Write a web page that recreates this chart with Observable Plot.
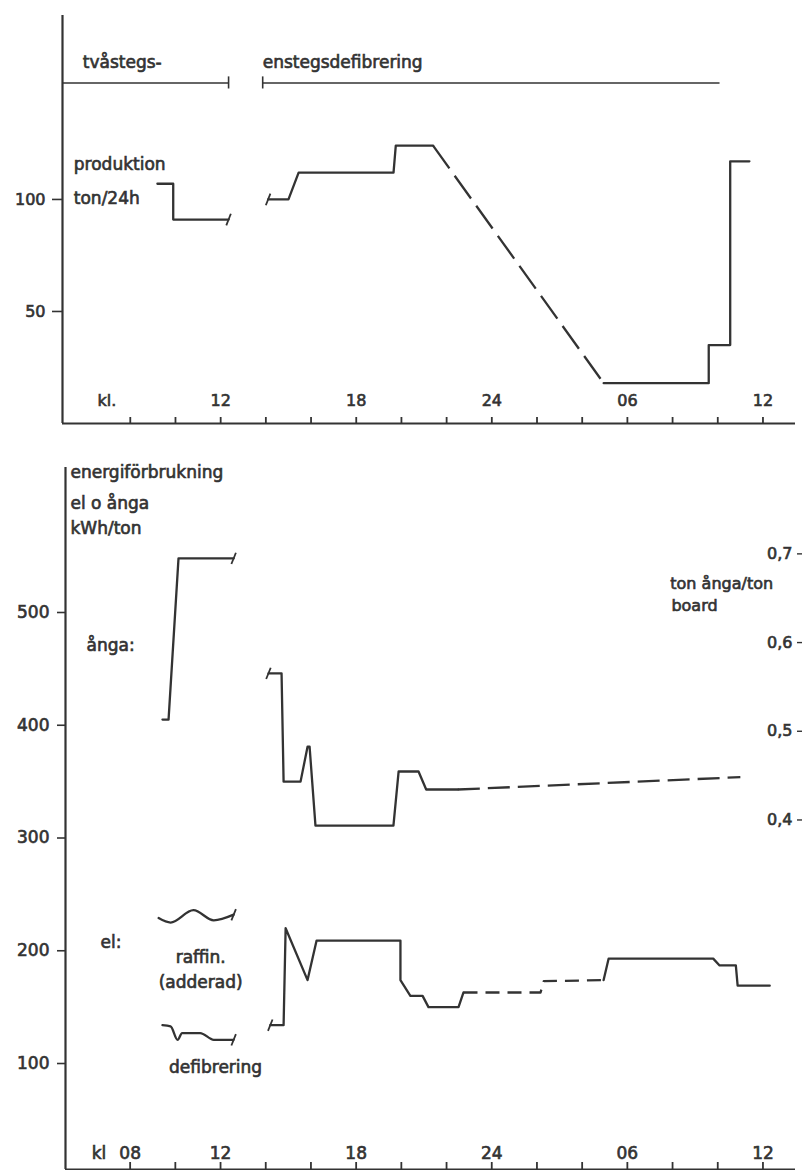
<!DOCTYPE html>
<html><head><meta charset="utf-8">
<script src="https://cdn.jsdelivr.net/npm/d3@7"></script>
<script src="https://cdn.jsdelivr.net/npm/@observablehq/plot@0.6"></script>
<style>
html,body{margin:0;padding:0;background:#fff;}
#chart{width:804px;height:1170px;overflow:hidden;background:#fff;}
#chart svg{display:block;}
#chart svg text{stroke:#333;stroke-width:0.65px;}
</style></head><body><div id="chart"></div>
<script>
// ---------------- data ----------------
// hours on a running clock: 24 = midnight, 30 = 06 next day, 36 = 12 next day
const hourTicks = [8, 10, 12, 14, 16, 18, 20, 22, 24, 26, 28, 30, 32, 34, 36];
const topLabelHours = [12, 18, 24, 30, 36];
const topLabelTexts = ["12", "18", "24", "06", "12"];
const bottomLabelHours = [8, 12, 18, 24, 30, 36];
const bottomLabelTexts = ["08", "12", "18", "24", "06", "12"];

// production, ton/24h
const prodTwoStageH = [9.2, 9.9, 9.9, 12.35];
const prodTwoStageV = [107, 107, 91, 91];
const prodOneStageH = [14.1, 15.0, 15.45, 19.65, 19.75, 21.4];
const prodOneStageV = [100, 100, 112, 112, 124, 124];
const prodDashedH = [21.4, 28.95];
const prodDashedV = [124, 18];
const prodLateH = [28.95, 33.6, 33.6, 34.55, 34.55, 35.4];
const prodLateV = [18, 18, 35, 35, 117, 117];
const prodYTicks = [50, 100];

// phases
const phaseNames = ["tvåstegs-", "enstegsdefibrering"];
const phaseStart = [5.0, 13.86];
const phaseEnd = [12.35, 34.1];

// steam (ånga), kWh/ton
const steamTwoStageH = [9.43, 9.7, 10.14, 12.58];
const steamTwoStageV = [405, 405, 548, 548];
const steamOneStageH = [14.12, 14.7, 14.79, 15.54, 15.85, 15.94, 16.2, 19.65, 19.88, 20.76, 21.1, 22.5];
const steamOneStageV = [446, 446, 350, 350, 381, 381, 311, 311, 359, 359, 343, 343];
const steamDashedH = [22.5, 35.0];
const steamDashedV = [343, 354];

// electricity (el), kWh/ton
const raffinH = [9.26, 9.79, 10.8, 11.7, 12.58];
const raffinV = [229, 225, 236, 227, 232];
const defibH = [9.43, 9.79, 10.1, 10.3, 11.1, 11.7, 12.58];
const defibV = [134, 133, 121, 127, 127, 121, 121];
const elOneStageH = [14.2, 14.79, 14.88, 15.85, 16.25, 19.96, 19.96, 20.4, 20.94, 21.2, 22.53, 22.75];
const elOneStageV = [134, 134, 220, 174, 209, 209, 174, 160, 160, 150, 150, 163];
const elDashedH = [22.75, 26.16, 26.3, 28.95];
const elDashedV = [163, 163, 173, 174];
const elLateH = [28.95, 29.17, 33.8, 34.08, 34.8, 34.88, 36.3];
const elLateV = [174, 193, 193, 187, 187, 169, 169];

const energyYTicks = [100, 200, 300, 400, 500];
const steamTickValues = [0.4, 0.5, 0.6, 0.7];
const steamTickTexts = ["0,4", "0,5", "0,6", "0,7"];
// calibration of right axis (ton ånga/ton board) against left axis (kWh/ton)
const steamCalibTon = [0.4, 0.7];
const steamCalibKwh = [316, 552];

// break marks at interrupted line ends
const topBreaksH = [12.35, 14.1];
const topBreaksV = [91, 100];
const bottomBreaksH = [12.58, 12.58, 12.58, 14.12, 14.2];
const bottomBreaksV = [548, 232, 121, 446, 134];

// ---------------- helpers ----------------
const pts = (H, V) => H.map((h, i) => ({h, v: V[i]}));
const INK = "#333";
const lineOpts = {x: "h", y: "v", stroke: INK, strokeWidth: 2.3, strokeLinejoin: "round", strokeLinecap: "round"};
const txt = (s, x, y, o = {}) => Plot.text([s], {x: () => x, y: () => y, text: d => d, textAnchor: "start", lineAnchor: "middle", fill: INK, fontSize: 17, ...o});

const chart = document.getElementById("chart");

// ---------------- top panel ----------------
const phases = phaseNames.map((n, i) => ({name: n, start: phaseStart[i], end: phaseEnd[i]}));
const topLabelMap = new Map(topLabelHours.map((h, i) => [h, topLabelTexts[i]]));

const topPlot = Plot.plot({
  width: 804, height: 440,
  marginLeft: 62, marginRight: 9, marginTop: 15, marginBottom: 17,
  style: {fontFamily: "DejaVu Sans", fontSize: "16px", color: INK, background: "white"},
  x: {type: "linear", domain: [5.0, 37.44], label: null},
  y: {type: "linear", domain: [0, 182.1], label: null},
  marks: [
    Plot.ruleX([5.0], {stroke: INK, strokeWidth: 2.2}),
    Plot.ruleY([0], {stroke: INK, strokeWidth: 2.2}),
    Plot.axisY(prodYTicks, {anchor: "left", tickSize: 10, tickPadding: 7, fontSize: 16, label: null, strokeWidth: 1.6}),
    Plot.axisX(hourTicks, {anchor: "bottom", tickSize: -6, tickPadding: -17, lineAnchor: "middle", fontSize: 16, label: null, strokeWidth: 1.8,
      tickFormat: d => topLabelMap.get(d) ?? ""}),
    // phase brackets
    Plot.ruleY(phases, {x1: "start", x2: "end", y: 152, stroke: INK, strokeWidth: 1.4}),
    Plot.ruleX(phases, {x: d => d.name === phaseNames[0] ? d.end : d.start, y1: 149.3, y2: 154.7, stroke: INK, strokeWidth: 1.6}),
    Plot.text(phases, {x: d => d.name === phaseNames[0] ? d.start + 0.9 : d.start, y: 161, text: "name", textAnchor: "start", lineAnchor: "middle", fill: INK, fontSize: 17}),
    // production
    Plot.line(pts(prodTwoStageH, prodTwoStageV), lineOpts),
    Plot.line(pts(prodOneStageH, prodOneStageV), lineOpts),
    Plot.line(pts(prodDashedH, prodDashedV), {...lineOpts, strokeDasharray: "28 9", strokeLinecap: "butt"}),
    Plot.line(pts(prodLateH, prodLateV), lineOpts),
    Plot.link(pts(topBreaksH, topBreaksV), {x1: d => d.h - 0.1, x2: d => d.h + 0.1, y1: d => d.v - 2.6, y2: d => d.v + 2.6, stroke: INK, strokeWidth: 1.8}),
    txt("produktion", 5.5, 115.8),
    txt("ton/24h", 5.5, 100.2),
    txt("kl.", 6.55, 10, {fontSize: 16})
  ]
});
chart.appendChild(topPlot);

// ---------------- bottom panel ----------------
const bottomLabelMap = new Map(bottomLabelHours.map((h, i) => [h, bottomLabelTexts[i]]));
const tonToKwh = d3.scaleLinear().domain(steamCalibTon).range(steamCalibKwh);
const steamTickMap = new Map(steamTickValues.map((t, i) => [tonToKwh(t), steamTickTexts[i]]));

const bottomPlot = Plot.plot({
  width: 804, height: 730,
  marginLeft: 65, marginRight: 9, marginTop: 27, marginBottom: 1,
  style: {fontFamily: "DejaVu Sans", fontSize: "17px", color: INK, background: "white", overflow: "visible"},
  x: {type: "linear", domain: [5.14, 37.44], label: null},
  y: {type: "linear", domain: [6, 628.6], label: null},
  marks: [
    Plot.ruleX([5.14], {stroke: INK, strokeWidth: 2.2}),
    Plot.ruleY([6], {stroke: INK, strokeWidth: 2.2}),
    Plot.axisY(energyYTicks, {anchor: "left", tickSize: 8, tickPadding: 8, fontSize: 17, label: null, strokeWidth: 1.6}),
    Plot.axisY([...steamTickMap.keys()], {anchor: "left", dx: 737, tickSize: 5, tickPadding: 5, fontSize: 16, label: null, strokeWidth: 1.4,
      tickFormat: d => steamTickMap.get(d)}),
    Plot.axisX(hourTicks, {anchor: "bottom", tickSize: -7, tickPadding: -9, lineAnchor: "middle", fontSize: 17, label: null, strokeWidth: 1.8,
      tickFormat: d => bottomLabelMap.get(d) ?? ""}),
    // steam
    Plot.line(pts(steamTwoStageH, steamTwoStageV), lineOpts),
    Plot.line(pts(steamOneStageH, steamOneStageV), lineOpts),
    Plot.line(pts(steamDashedH, steamDashedV), {...lineOpts, strokeDasharray: "22 8", strokeLinecap: "butt"}),
    // electricity
    Plot.line(pts(raffinH, raffinV), {...lineOpts, curve: "monotone-x"}),
    Plot.line(pts(defibH, defibV), {...lineOpts, curve: "monotone-x"}),
    Plot.line(pts(elOneStageH, elOneStageV), lineOpts),
    Plot.line(pts(elDashedH, elDashedV), {...lineOpts, strokeDasharray: "14 8", strokeLinecap: "butt"}),
    Plot.line(pts(elLateH, elLateV), lineOpts),
    Plot.link(pts(bottomBreaksH, bottomBreaksV), {x1: d => d.h - 0.1, x2: d => d.h + 0.1, y1: d => d.v - 5, y2: d => d.v + 5, stroke: INK, strokeWidth: 1.8}),
    // annotations
    txt("energiförbrukning", 5.36, 624),
    txt("el o ånga", 5.36, 597),
    txt("kWh/ton", 5.36, 574.5),
    txt("ånga:", 6.07, 470.7),
    txt("el:", 6.69, 207.3),
    txt("raffin.", 11.12, 194, {textAnchor: "middle"}),
    txt("(adderad)", 11.12, 172, {textAnchor: "middle"}),
    txt("defibrering", 11.78, 96.4, {textAnchor: "middle"}),
    txt("ton ånga/ton", 31.9, 525.7, {fontSize: 16}),
    txt("board", 31.95, 506, {fontSize: 16}),
    txt("kl", 6.3, 20.2)
  ]
});
chart.appendChild(bottomPlot);
</script></body></html>
